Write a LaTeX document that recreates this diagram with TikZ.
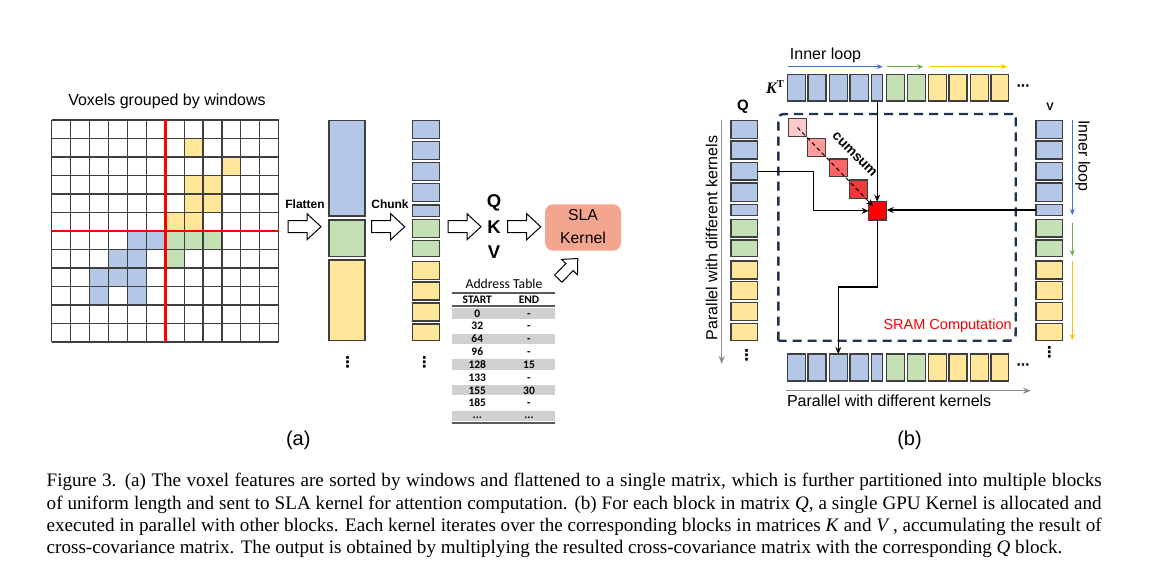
\documentclass[tikz,border=0pt]{standalone}
\usepackage{fontspec}
\setmainfont{Liberation Sans}
\newfontfamily\capserif{Liberation Serif}
\newfontfamily\calfont{Carlito}
\newfontfamily\dvfont{DejaVu Sans}
\usetikzlibrary{arrows.meta,calc}
\definecolor{cblue}{HTML}{B4C7E7}
\definecolor{cgreen}{HTML}{C5E0B4}
\definecolor{cyellow}{HTML}{FFE699}
\definecolor{bordergray}{HTML}{3F3F3F}
\definecolor{arrblue}{HTML}{4472C4}
\definecolor{arrgreen}{HTML}{70AD47}
\definecolor{arryellow}{HTML}{FFC000}
\definecolor{navy}{HTML}{1F3251}
\definecolor{slafill}{HTML}{F4A590}
\definecolor{tabgray}{HTML}{D0D0D0}
\definecolor{rulegray}{HTML}{595959}
\definecolor{pinkA}{HTML}{FFC9C9}
\definecolor{pinkB}{HTML}{FF9B9B}
\definecolor{pinkC}{HTML}{FF6565}
\definecolor{pinkD}{HTML}{EE3A3A}
\definecolor{sramred}{HTML}{FF0000}
\definecolor{linegray}{HTML}{8C8C8C}
\newcommand\myfs[1]{\fontsize{#1}{#1}\selectfont}
\newcommand\myblk[6]{\node[blk,fill=#6,minimum width={#4-#2},minimum height={#5-#3}] (#1) at ({(#2+#4)/2},{(#3+#5)/2}) {};}
\tikzset{
  blk/.style={draw=bordergray, line width=1.1pt, inner sep=0pt, outer sep=0pt},
  conn/.style={draw=black, line width=1.2pt, -{Stealth[length=7pt,width=6pt]}},
  looparr/.style={line width=1.3pt, -{Stealth[length=6pt,width=5pt]}},
  grayarr/.style={draw=linegray, line width=1.5pt, -{Stealth[length=8pt,width=6pt]}},
  lbl/.style={inner sep=0pt, outer sep=0pt},
  dotsv/.style={inner sep=0pt, outer sep=0pt, font=\dvfont\bfseries\myfs{15}},
  dotsh/.style={inner sep=0pt, outer sep=0pt, font=\dvfont\bfseries\myfs{13}},
  tabnum/.style={inner sep=0pt, anchor=base, font=\calfont\bfseries\myfs{11.5}},
  blockarrow/.pic={\draw[line width=1pt, fill=white, line join=miter] (0,-6) -- (19,-6) -- (19,-13) -- (33,0) -- (19,13) -- (19,6) -- (0,6) -- cycle;}
}
\begin{document}
\begin{tikzpicture}[x=1pt,y=-1pt]
\useasboundingbox (0,0) rectangle (1151,569);
\fill[white] (0,0) rectangle (1151,569);

% ---------------- (a) grid ----------------
\node[lbl, anchor=base, font=\myfs{16}] (gridtitle) at (167,105.7) {Voxels grouped by windows};
\foreach \c/\r/\col in {7/1/cyellow,9/2/cyellow,7/3/cyellow,8/3/cyellow,7/4/cyellow,8/4/cyellow,6/5/cyellow,7/5/cyellow,
  4/6/cblue,5/6/cblue,3/7/cblue,4/7/cblue,2/8/cblue,3/8/cblue,4/8/cblue,2/9/cblue,4/9/cblue,
  6/6/cgreen,7/6/cgreen,8/6/cgreen,6/7/cgreen}
  \fill[\col] ({51.7+\c*18.917},{120+\r*18.5}) rectangle ++(18.917,18.5);
\foreach \i in {0,...,12}{
  \draw[bordergray, line width=1.2pt] ({51.7+\i*18.917},120) -- ({51.7+\i*18.917},342);
  \draw[bordergray, line width=1.2pt] (51.7,{120+\i*18.5}) -- (278.7,{120+\i*18.5});
}
\draw[red, line width=2.6pt] (165.2,120) -- (165.2,342);
\draw[red, line width=2.6pt] (51.7,231) -- (278.7,231);

% flatten
\node[lbl, anchor=base, font=\bfseries\myfs{12}] (flattxt) at (305,209) {Flatten};
\pic at (288,226.7) {blockarrow};
\myblk{fb}{329}{120.7}{365}{216}{cblue}
\myblk{fg}{329}{220}{365}{256.7}{cgreen}
\myblk{fy}{329}{260}{365}{340.7}{cyellow}
\node[dotsv] (fdots) at (347.7,362) {⋮};

% chunk
\node[lbl, anchor=base, font=\bfseries\myfs{12}] (chunktxt) at (390,209) {Chunk};
\pic at (371.7,226.7) {blockarrow};
\foreach \a/\b/\c [count=\n] in {120.7/138.7/cblue,141.3/159.3/cblue,162.3/180.7/cblue,183.3/201.3/cblue,205/216.3/cblue,
  219.7/237.3/cgreen,240.3/256.7/cgreen,261.3/279.3/cyellow,282/300/cyellow,303/321/cyellow,324/340.7/cyellow}
  {\myblk{ch\n}{412.7}{\a}{439.3}{\b}{\c}}
\node[dotsv] (cdots) at (424.3,362) {⋮};

% QKV
\pic at (448,226.7) {blockarrow};
\node[lbl, anchor=base, font=\bfseries\myfs{18.5}] (qq) at (494,207.3) {Q};
\node[lbl, anchor=base, font=\bfseries\myfs{18.5}] (kk) at (494,233.3) {K};
\node[lbl, anchor=base, font=\bfseries\myfs{18.5}] (vv) at (494,259) {V};
\pic at (507.7,226.7) {blockarrow};
\node[fill=slafill, rounded corners=8pt, minimum width=76pt, minimum height=46.4pt, inner sep=0pt] (sla) at (583,227.5) {};
\node[lbl, anchor=base, font=\myfs{15.8}] (slat1) at (583,220.7) {SLA};
\node[lbl, anchor=base, font=\myfs{15.8}] (slat2) at (583,244) {Kernel};
\pic[rotate=46, scale=0.85] at (558.3,278.7) {blockarrow};

% address table
\node[lbl, anchor=base, font=\calfont\myfs{13.7}] (attitle) at (504,288.3) {Address Table};
\foreach \i in {0,2,4,6,8}
  \fill[tabgray] (451.7,{313.3+12.83*\i-5.2}) rectangle (555,{313.3+12.83*\i+5.2});
\draw[rulegray, line width=2pt] (451.7,292.7) -- (555,292.7);
\draw[rulegray, line width=2pt] (451.7,306) -- (555,306);
\draw[rulegray, line width=2pt] (451.7,423) -- (555,423);
\node[tabnum] (hstart) at (477.3,303.3) {START};
\node[tabnum] (hend) at (529,303.3) {END};
\foreach \s/\e [count=\i from 0] in {0/-,32/-,64/-,96/-,128/15,133/-,155/30,185/-}{
  \node[tabnum] (s\i) at (477.3,{313.3+12.83*\i+3.8}) {\s};
  \node[tabnum] (e\i) at (529,{313.3+12.83*\i+3.8}) {\e};
}
\node[tabnum] (s8) at (477.3,{313.3+12.83*8+2.5}) {...};
\node[tabnum] (e8) at (529,{313.3+12.83*8+2.5}) {...};

\node[lbl, anchor=base, font=\myfs{20}] (alab) at (298.3,445.5) {(a)};

% ---------------- (b) ----------------
\node[lbl, anchor=base, font=\myfs{16}] (innertop) at (825.5,60) {Inner loop};
\draw[looparr, arrblue] (788.3,66.7) -- (882.7,66.7);
\draw[looparr, arrgreen] (886.7,66.7) -- (923.3,66.7);
\draw[looparr, arryellow] (930,66.7) -- (1007,66.7);

\node[lbl, anchor=base, font=\capserif\bfseries\itshape\myfs{16}] (ktlab) at (775,93.3) {K\raisebox{5.5pt}{\upshape\myfs{10.5}T}};
\foreach \a/\b/\c [count=\n] in {787.3/805.3/cblue,808/826/cblue,829.3/847.3/cblue,850/868.3/cblue,871.7/882.7/cblue,
  886.7/904.7/cgreen,907.3/925.3/cgreen,928.3/946.7/cyellow,949/967/cyellow,970.7/988.3/cyellow,991/1008.3/cyellow}
  {\myblk{k\n}{\a}{74.3}{\b}{101}{\c}
   \myblk{o\n}{\a}{354}{\b}{381}{\c}}
\node[dotsh] (kdots) at (1023,88) {⋯};
\node[dotsh] (odots) at (1023,366.7) {⋯};

\node[lbl, anchor=base, font=\bfseries\myfs{15}] (qlab) at (743,110.7) {Q};
\node[lbl, anchor=base, font=\bfseries\myfs{11}] (vlab) at (1050,111) {V};
\foreach \a/\b/\c [count=\n] in {120.3/138.3/cblue,141/159/cblue,162.3/180/cblue,183/201.3/cblue,204.3/215.7/cblue,
  219.3/237/cgreen,240/256.7/cgreen,261/279/cyellow,281.7/299.7/cyellow,302.7/320.7/cyellow,323.3/340.7/cyellow}
  {\myblk{q\n}{731}{\a}{757.3}{\b}{\c}
   \myblk{v\n}{1036}{\a}{1062.7}{\b}{\c}}
\node[dotsv] (qdots) at (746.7,355) {⋮};
\node[dotsv] (vdots) at (1049.3,352) {⋮};

\draw[looparr, arrblue] (1072.3,120) -- (1072.3,215);
\draw[looparr, arrgreen] (1072.3,222.7) -- (1072.3,256);
\draw[looparr, arryellow] (1072.3,260.7) -- (1072.3,340);
\node[lbl, anchor=base, rotate=-90, font=\myfs{16}] (innerright) at (1078.5,155.8) {Inner loop};

\draw[grayarr] (721.7,120) -- (721.7,364);
\node[lbl, anchor=base, rotate=90, font=\myfs{16}] (parleft) at (717.3,238) {Parallel with different kernels};
\draw[grayarr] (786,390.7) -- (1031,390.7);
\node[lbl, anchor=base west, font=\myfs{16}] (parbot) at (787,406.7) {Parallel with different kernels};

% SRAM box
\draw[navy, line width=2.4pt, dash pattern=on 9pt off 6pt]
  (778.3,340.7) -- (778.3,126) .. controls (778.3,114) .. (790.3,114) -- (1015.7,114)
  -- (1015.7,328.7) .. controls (1015.7,340.7) .. (1003.7,340.7) -- cycle;
\node[lbl, anchor=base east, text=sramred, font=\myfs{14.5}] (sram) at (1011.7,329.3) {SRAM Computation};

% cumsum
\myblk{cs1}{788.3}{118.3}{806.7}{136.7}{pinkA}
\myblk{cs2}{807.3}{138.3}{825.7}{156.7}{pinkB}
\myblk{cs3}{829.3}{159}{847.3}{176.7}{pinkC}
\myblk{cs4}{849.3}{180}{867.7}{198.3}{pinkD}
\myblk{red}{868.7}{201.7}{886.7}{220}{sramred}
\draw[black, line width=1pt, dash pattern=on 4pt off 3pt, -{Stealth[length=7pt,width=6pt]}] (cs1.center) -- ($(red.north west)+(4.5,4.5)$);
\node[lbl, rotate=-45, font=\bfseries\myfs{14}] (cumsum) at (854.5,154.5) {cumsum};

% connectors
\draw[conn] (q3.east) -- ++(56,0) |- (red.west);
\draw[conn] (k5.south) -- (k5.south |- red.north);
\draw[conn] (v5.west) -- (v5.west -| red.east);
\draw[conn] (red.south) -- ++(0,67) -| (o3.north);

\node[lbl, anchor=base, font=\myfs{20}] (blab) at (909.5,445.5) {(b)};

% caption
\node[lbl, anchor=base west] (caption) at (46.7,486.7) {\parbox[t]{1055pt}{\capserif\fontsize{19.1}{22.4}\selectfont
Figure 3. (a) The voxel features are sorted by windows and flattened to a single matrix, which is further partitioned into multiple blocks\linebreak
of uniform length and sent to SLA kernel for attention computation. (b) For each block in matrix \textit{Q}, a single GPU Kernel is allocated and\linebreak
executed in parallel with other blocks. Each kernel iterates over the corresponding blocks in matrices \textit{K} and \textit{V}\,, accumulating the result of\linebreak
cross-covariance matrix. The output is obtained by multiplying the resulted cross-covariance matrix with the corresponding \textit{Q} block.}};
\end{tikzpicture}
\end{document}
